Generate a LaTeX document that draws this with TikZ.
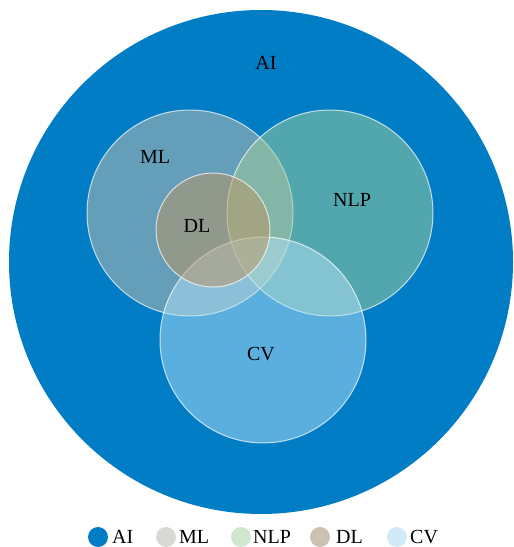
\documentclass[tikz,border=0pt]{standalone}
\usepackage{fontspec}
\setmainfont{Liberation Serif}
% legend swatches
\definecolor{aiblue}{RGB}{0,125,197}
\definecolor{mlgray}{RGB}{217,217,212}
\definecolor{nlpgreen}{RGB}{207,232,205}
\definecolor{dlbrown}{RGB}{204,194,176}
\definecolor{cvblue}{RGB}{208,234,248}
% translucent set fills
\definecolor{mlfill}{RGB}{200,191,175}
\definecolor{nlpfill}{RGB}{164,207,151}
\definecolor{cvfill}{RGB}{180,225,247}
\definecolor{dlfill}{RGB}{190,150,98}
\begin{document}
\begin{tikzpicture}[x=1pt,y=1pt,
  setcircle/.style={circle,draw=white,draw opacity=0.7,line width=1pt,fill opacity=0.5,inner sep=0pt},
  lbl/.style={font=\fontsize{20}{23}\selectfont,text=black,inner sep=0pt},
  legdot/.style={circle,inner sep=0pt,minimum size=20pt},
  legtxt/.style={lbl,anchor=west}]
\useasboundingbox (0,0) rectangle (514,547);
% outer set
\node[circle,fill=aiblue,inner sep=0pt,minimum size=504pt] (ai) at (261,285) {};
% subsets
\node[setcircle,fill=mlfill,minimum size=206pt] (ml) at (190,334) {};
\node[setcircle,fill=nlpfill,minimum size=206pt] (nlp) at (330,334) {};
\node[setcircle,fill=cvfill,minimum size=206pt] (cv) at (263,207) {};
\node[setcircle,fill=dlfill,minimum size=114pt] (dl) at (213,317) {};
% labels
\node[lbl] (ailbl) at (266,484) {AI};
\node[lbl] (mllbl) at (155,390) {ML};
\node[lbl] (nlplbl) at (352,347) {NLP};
\node[lbl] (dllbl) at (197,321) {DL};
\node[lbl] (cvlbl) at (261,193) {CV};
% legend
\node[legdot,fill=aiblue] (k1) at (98,10) {};
\node[legtxt] (t1) at (112,10) {AI};
\node[legdot,fill=mlgray] (k2) at (166,10) {};
\node[legtxt] (t2) at (179,10) {ML};
\node[legdot,fill=nlpgreen] (k3) at (241,10) {};
\node[legtxt] (t3) at (253,10) {NLP};
\node[legdot,fill=dlbrown] (k4) at (320,10) {};
\node[legtxt] (t4) at (336,10) {DL};
\node[legdot,fill=cvblue] (k5) at (397,10) {};
\node[legtxt] (t5) at (410,10) {CV};
\end{tikzpicture}
\end{document}
